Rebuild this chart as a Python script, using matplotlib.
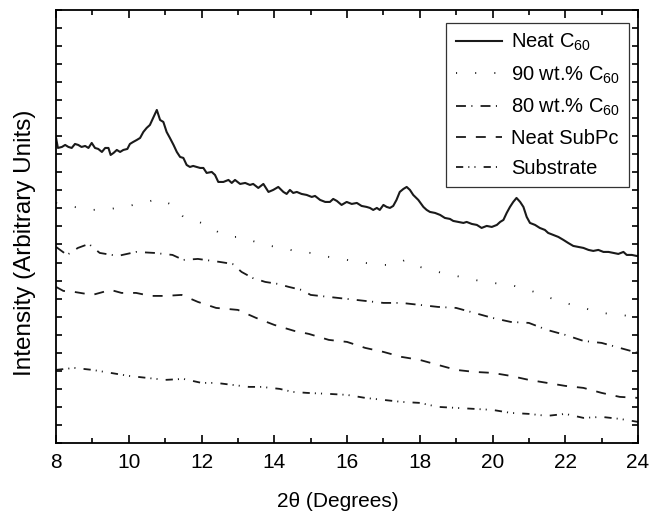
import matplotlib
matplotlib.use("Agg")
import matplotlib.pyplot as plt
import numpy as np
from matplotlib.ticker import MultipleLocator

plt.rcParams["font.family"] = ["Liberation Sans", "DejaVu Sans"]
plt.rcParams["mathtext.fontset"] = "custom"
plt.rcParams["mathtext.rm"] = "Liberation Sans"
plt.rcParams["mathtext.it"] = "Liberation Sans"

# neat C60 (2theta, intensity a.u.)
c60_x = [8.00, 8.05, 8.16, 8.25, 8.34, 8.43, 8.52, 8.61, 8.70, 8.80, 8.89, 8.98,
         9.07, 9.16, 9.26, 9.35, 9.44, 9.50, 9.58, 9.67, 9.76, 9.85, 9.96, 10.03,
         10.12, 10.22, 10.31, 10.40, 10.49, 10.58, 10.67, 10.77, 10.86, 10.95, 11.04,
         11.13, 11.23, 11.32, 11.41, 11.50, 11.59, 11.68, 11.77, 11.87, 11.96, 12.05,
         12.14, 12.28, 12.37, 12.46, 12.60, 12.74, 12.83, 12.92, 13.06, 13.20, 13.33,
         13.42, 13.56, 13.70, 13.84, 13.97, 14.11, 14.25, 14.34, 14.43, 14.52, 14.62,
         14.75, 14.89, 15.03, 15.12, 15.26, 15.40, 15.53, 15.62, 15.72, 15.85, 15.99,
         16.13, 16.27, 16.40, 16.54, 16.63, 16.72, 16.82, 16.90, 17.00, 17.09, 17.18,
         17.27, 17.36, 17.45, 17.55, 17.64, 17.73, 17.82, 17.96, 18.10, 18.19, 18.28,
         18.42, 18.56, 18.69, 18.83, 18.92, 19.06, 19.20, 19.29, 19.43, 19.57, 19.70,
         19.84, 19.98, 20.12, 20.21, 20.30, 20.39, 20.48, 20.57, 20.66, 20.76, 20.85,
         20.94, 21.03, 21.17, 21.30, 21.44, 21.53, 21.67, 21.81, 21.95, 22.08, 22.22,
         22.36, 22.50, 22.64, 22.77, 22.91, 23.05, 23.19, 23.32, 23.46, 23.60, 23.69,
         23.83, 23.96, 24.00]
c60_y = [305, 295, 296, 298, 296, 295, 299, 298, 296, 297, 295, 300,
         295, 294, 291, 295, 295, 288, 290, 293, 291, 293, 294, 299,
         301, 303, 305, 311, 315, 318, 325, 333, 323, 321, 311,
         305, 298, 291, 286, 285, 278, 276, 277, 276, 275, 275,
         270, 271, 268, 261, 261, 263, 260, 263, 259, 260, 258,
         259, 255, 259, 251, 253, 256, 251, 249, 253, 250, 251,
         249, 248, 246, 247, 243, 241, 241, 244, 242, 238, 241,
         239, 240, 237, 236, 235, 233, 235, 233, 238, 236, 235,
         237, 243, 251, 254, 256, 253, 248, 243, 236, 233, 231,
         230, 228, 225, 224, 222, 221, 220, 221, 219, 218, 215,
         217, 216, 218, 221, 223, 230, 236, 241, 245, 241, 236,
         226, 220, 218, 215, 213, 210, 208, 206, 203, 200, 197,
         196, 195, 193, 192, 193, 191, 191, 190, 189, 191, 188,
         188, 187, 187]

w90_x = [8.0, 8.5, 9.0, 9.5, 10.0, 10.5, 10.8, 11.2, 11.5, 12.0, 12.45, 12.8, 13.1,
         13.4, 13.75, 14.05, 14.35, 14.65, 15.0, 15.5, 16.0, 16.5, 17.0, 17.3, 17.6,
         18.0, 18.5, 19.0, 19.5, 20.0, 20.5, 21.0, 21.5, 22.0, 22.5, 23.0, 23.5, 24.0]
w90_y = [240, 236, 233, 234, 237, 241, 244, 238, 226, 220, 211, 206, 206,
         202, 198, 196, 194, 191, 190, 186, 183, 180, 178, 178, 183,
         176, 171, 167, 163, 160, 158, 153, 146, 140, 135, 130, 128, 126]

w80_x = [8.0, 8.3, 8.6, 8.9, 9.2, 9.7, 10.2, 10.7, 11.2, 11.5, 11.9, 12.5, 12.85,
         13.1, 13.4, 13.75, 14.1, 14.4, 14.75, 15.0, 15.5, 16.0, 16.5, 17.0, 17.5,
         18.0, 18.5, 19.0, 19.5, 20.0, 20.5, 21.0, 21.5, 22.0, 22.5, 23.0, 23.5, 24.0]
w80_y = [196, 188, 195, 199, 190, 187, 191, 190, 188, 183, 184, 181, 179,
         171, 165, 161, 159, 156, 153, 148, 146, 144, 142, 140, 140,
         138, 136, 135, 130, 125, 121, 120, 113, 108, 102, 100, 95, 90]

subpc_x = [8.0, 8.2, 8.5, 9.0, 9.5, 9.8, 10.2, 10.6, 11.0, 11.45, 11.9, 12.4, 13.0,
           13.5, 14.0, 14.55, 14.95, 15.5, 16.0, 16.5, 17.0, 17.5, 18.0, 18.5, 19.0,
           19.5, 20.0, 20.5, 21.0, 21.5, 22.0, 22.5, 23.0, 23.5, 24.0]
subpc_y = [156, 152, 151, 148, 153, 150, 150, 147, 147, 148, 141, 135, 133,
           125, 118, 112, 109, 103, 101, 95, 91, 86, 83, 78, 73,
           71, 70, 67, 63, 60, 57, 55, 50, 46, 45]

sub_x = [8.0, 8.5, 9.0, 9.5, 10.0, 10.5, 11.0, 11.5, 12.0, 12.4, 12.85, 13.3, 13.65,
         14.15, 14.5, 14.9, 15.5, 16.0, 16.5, 17.0, 17.5, 18.0, 18.5, 19.0, 19.5,
         20.0, 20.5, 21.0, 21.5, 22.0, 22.5, 23.0, 23.5, 24.0]
sub_y = [73, 75, 73, 70, 67, 65, 63, 64, 60, 60, 58, 56, 56,
         54, 51, 50, 49, 48, 45, 43, 41, 40, 36, 35, 34,
         33, 30, 29, 27, 29, 25, 26, 24, 21]

labels = [r"Neat C$_{\mathrm{60}}$", r"90 wt.% C$_{\mathrm{60}}$",
          r"80 wt.% C$_{\mathrm{60}}$", "Neat SubPc", "Substrate"]

fig = plt.figure(figsize=(6.52, 5.12), dpi=100)
ax = fig.add_axes([0.086, 0.135, 0.8925, 0.8455])

lw = 1.3
ax.plot(c60_x, c60_y, color="#1a1a1a", lw=1.5, ls="-", label=labels[0])
ax.plot(w90_x, w90_y, color="#1a1a1a", lw=lw, ls=(0, (0.6, 10)), label=labels[1])
ax.plot(w80_x, w80_y, color="#1a1a1a", lw=lw, ls=(0, (5.5, 3, 0.6, 4.5)), label=labels[2])
ax.plot(subpc_x, subpc_y, color="#1a1a1a", lw=lw, ls=(0, (5.5, 5.5)), label=labels[3])
ax.plot(sub_x, sub_y, color="#1a1a1a", lw=lw,
        ls=(0, (4, 2.8, 0.6, 2.8, 0.6, 4.5)), label=labels[4])

ax.set_xlim(8, 24)
ax.set_ylim(0, 433)
ax.xaxis.set_major_locator(MultipleLocator(2))
ax.xaxis.set_minor_locator(MultipleLocator(1))
ax.set_yticks(np.linspace(0, 433, 25))
ax.set_yticklabels([])
ax.tick_params(which="both", direction="in", top=True, right=True, width=1.2)
ax.tick_params(which="major", axis="x", length=6, labelsize=15, pad=7)
ax.tick_params(which="minor", axis="x", length=3.5)
ax.tick_params(axis="y", length=4)
for s in ax.spines.values():
    s.set_linewidth(1.3)

ax.set_xlabel("2\u03b8 (Degrees)", fontsize=15)
ax.xaxis.set_label_coords(0.485, -0.113)
ax.set_ylabel("Intensity (Arbitrary Units)", fontsize=17.5)
ax.yaxis.set_label_coords(-0.034, 0.462)

leg = ax.legend(loc="upper right", fontsize=14.5, handlelength=2.3, handletextpad=0.45,
                labelspacing=0.55, borderpad=0.45, fancybox=False, borderaxespad=0,
                bbox_to_anchor=(0.9845, 0.970), framealpha=1)
leg.get_frame().set_edgecolor("#333333")
leg.get_frame().set_linewidth(0.9)

fig.savefig("out.png", dpi=100)
